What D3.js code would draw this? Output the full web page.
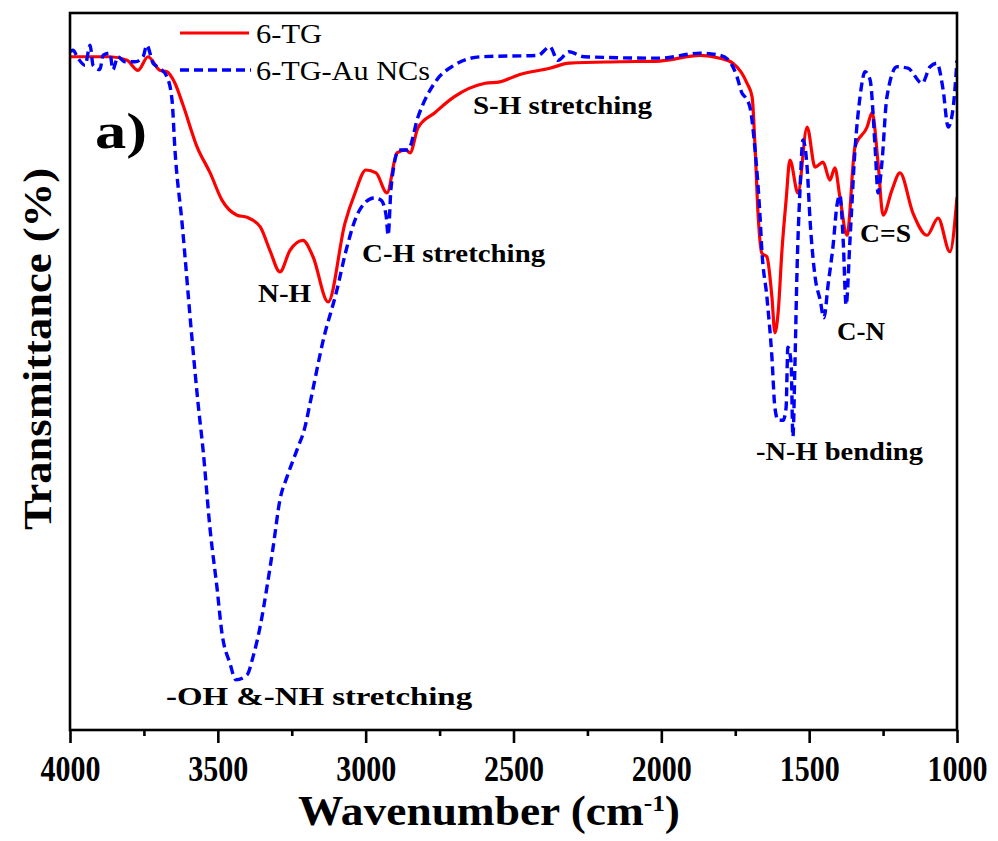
<!DOCTYPE html>
<html>
<head>
<meta charset="utf-8">
<script src="https://cdn.jsdelivr.net/npm/d3@7"></script>
<style>
  html, body { margin: 0; padding: 0; background: #fff; }
  svg { display: block; }
  text { font-family: "Liberation Serif", "Times New Roman", serif; }
</style>
</head>
<body>
<svg id="chart" width="998" height="841"></svg>
<script>
// ---- data (wavenumber cm^-1, transmittance in arbitrary %) ----
const tgWavenumber = [4000,3865,3807,3770,3736,3696,3672,3645,3618,3570,3526,3486,3435,3401,3357,3324,3290,3256,3212,3178,3127,3070,3036,2999,2965,2928,2894,2864,2850,2823,2766,2701,2596,2546,2481,2377,2312,2140,2005,1869,1802,1758,1710,1693,1683,1673,1660,1643,1626,1616,1605,1592,1578,1565,1538,1507,1480,1453,1430,1413,1396,1372,1345,1304,1287,1267,1250,1220,1193,1149,1101,1064,1024,1000];
const tgValues = [93.9,93.9,93.4,92.0,93.9,92.0,91.8,90.2,87.2,81.3,77.7,73.9,71.8,71.5,70.2,66.9,63.9,66.9,68.3,66.0,59.7,70.7,74.9,78.1,77.7,74.9,80.5,80.9,80.5,84.0,86.1,88.3,90.2,90.4,91.4,92.3,93.0,93.2,93.3,94.1,93.7,93.0,90.2,88.3,81.3,72.1,66.5,66.0,60.4,55.4,58.2,66.9,73.9,79.5,74.9,84.1,78.5,79.2,76.7,78.4,74.3,69.0,81.3,84.1,86.1,79.1,71.8,75.3,77.7,72.1,69.0,71.4,66.7,74.3];

const auWavenumber = [4000,3990,3973,3949,3932,3922,3899,3888,3865,3855,3838,3814,3780,3753,3740,3719,3696,3672,3655,3645,3621,3587,3567,3550,3526,3503,3486,3459,3439,3401,3381,3357,3334,3313,3290,3266,3232,3205,3188,3141,3100,3063,3026,2972,2948,2931,2924,2914,2887,2857,2823,2759,2701,2610,2417,2377,2350,2312,2262,2005,1869,1802,1768,1744,1727,1717,1700,1683,1666,1660,1643,1626,1616,1605,1588,1578,1572,1561,1555,1548,1541,1531,1521,1507,1497,1480,1463,1450,1436,1419,1406,1396,1385,1375,1362,1345,1328,1311,1294,1277,1267,1254,1237,1203,1166,1118,1091,1068,1047,1030,1013,1000];
const auValues = [94.6,94.8,93.7,92.7,95.5,92.7,92.1,94.1,94.4,92.1,93.9,93.2,93.2,93.9,95.5,93.0,92.3,91.1,87.9,80.9,70.7,54.4,45.6,39.1,27.9,19.9,13.5,9.3,7.0,7.7,10.2,14.4,19.9,25.5,32.1,35.3,39.1,42.3,45.6,54.8,60.9,67.4,72.1,74.2,73.9,71.8,69.0,75.7,80.9,80.9,85.5,90.7,92.7,93.9,94.1,95.3,93.4,94.6,93.9,93.7,94.4,94.1,93.2,91.1,88.8,88.3,86.8,80.9,71.5,66.9,60.4,52.0,45.0,43.2,43.2,45.0,53.4,51.2,40.9,51.2,64.2,75.3,82.3,78.5,71.1,63.2,60.0,57.5,62.1,67.6,73.2,74.6,68.3,59.3,68.3,80.9,88.3,91.8,90.7,81.3,74.9,79.1,88.3,92.5,92.3,90.2,92.5,93.0,89.3,84.1,86.8,93.4];

const seriesNames = ["6-TG", "6-TG-Au NCs"];
const xTickValues = [4000,3500,3000,2500,2000,1500,1000];
const xMinorTicks = [3750,3250,2750,2250,1750,1250];

const annotations = [
  {text: "S-H stretching", wn: 2637, v: 85.9, len: 179},
  {text: "C-H stretching", wn: 3012, v: 65.3, len: 183},
  {text: "N-H", wn: 3364, v: 59.7, len: 53},
  {text: "-OH &-NH stretching", wn: 3675, v: 3.5, len: 306},
  {text: "-N-H bending", wn: 1680, v: 37.7, len: 167},
  {text: "C-N", wn: 1406, v: 54.4, len: 48},
  {text: "C=S", wn: 1328, v: 68.1, len: 51}
];

// ---- layout ----
const L = 70, R = 957, T = 13, B = 730;
const svg = d3.select("#chart");

const x = d3.scaleLinear().domain([4000, 1000]).range([L, R]);
const y = d3.scaleLinear().domain([0, 100]).range([B, T]);

svg.append("defs").append("clipPath").attr("id", "clip")
  .append("rect").attr("x", L).attr("y", T).attr("width", R - L).attr("height", B - T);

const line = d3.line()
  .x(d => x(d[0])).y(d => y(d[1]))
  .curve(d3.curveMonotoneX);

const tgData = tgWavenumber.map((w, i) => [w, tgValues[i]]);
const auData = auWavenumber.map((w, i) => [w, auValues[i]]);

const plot = svg.append("g").attr("clip-path", "url(#clip)");
plot.append("path").datum(tgData)
  .attr("d", line).attr("fill", "none")
  .attr("stroke", "#ff0000").attr("stroke-width", 3.2)
  .attr("stroke-linejoin", "round");
plot.append("path").datum(auData)
  .attr("d", line).attr("fill", "none")
  .attr("stroke", "#0000ff").attr("stroke-width", 3.4)
  .attr("stroke-dasharray", "9,5");

// frame
svg.append("rect").attr("x", L).attr("y", T).attr("width", R - L).attr("height", B - T)
  .attr("fill", "none").attr("stroke", "#000").attr("stroke-width", 2.6);

// x axis
const xAxis = d3.axisBottom(x).tickValues(xTickValues).tickSize(13).tickFormat(d3.format("d"));
const gx = svg.append("g").attr("transform", `translate(0,${B})`).call(xAxis);
gx.select(".domain").remove();
gx.selectAll(".tick line").attr("stroke", "#000").attr("stroke-width", 2.6);
gx.selectAll(".tick text")
  .attr("y", 51).attr("dy", 0)
  .attr("fill", "#000")
  .style("font-family", '"Liberation Serif", serif')
  .style("font-weight", "bold").style("font-size", "35px")
  .attr("textLength", 60).attr("lengthAdjust", "spacingAndGlyphs");

const xAxisMinor = d3.axisBottom(x).tickValues(xMinorTicks).tickSize(6).tickFormat("");
const gxm = svg.append("g").attr("transform", `translate(0,${B})`).call(xAxisMinor);
gxm.select(".domain").remove();
gxm.selectAll(".tick line").attr("stroke", "#000").attr("stroke-width", 2.6);

// axis titles
const xt = svg.append("text")
  .attr("x", 489).attr("y", 825).attr("text-anchor", "middle")
  .style("font-weight", "bold").style("font-size", "43px")
  .attr("textLength", 382).attr("lengthAdjust", "spacingAndGlyphs");
xt.append("tspan").text("Wavenumber (cm");
xt.append("tspan").text("-1").attr("dy", -14).style("font-size", "24px");
xt.append("tspan").text(")").attr("dy", 14);

svg.append("text")
  .attr("transform", "translate(51,349) rotate(-90)")
  .attr("text-anchor", "middle")
  .style("font-weight", "bold").style("font-size", "41px")
  .attr("textLength", 362).attr("lengthAdjust", "spacingAndGlyphs")
  .text("Transmittance (%)");

// panel label
svg.append("text").attr("x", 95).attr("y", 148)
  .style("font-weight", "bold").style("font-size", "50px")
  .attr("textLength", 52).attr("lengthAdjust", "spacingAndGlyphs")
  .text("a)");

// legend
const lg = svg.append("g");
lg.append("line").attr("x1", 180).attr("x2", 249).attr("y1", 33).attr("y2", 33)
  .attr("stroke", "#ff0000").attr("stroke-width", 3.2);
lg.append("text").attr("x", 256).attr("y", 43)
  .style("font-size", "27px").attr("textLength", 66).attr("lengthAdjust", "spacingAndGlyphs")
  .text(seriesNames[0]);
lg.append("line").attr("x1", 180).attr("x2", 251).attr("y1", 70).attr("y2", 70)
  .attr("stroke", "#0000ff").attr("stroke-width", 3.4).attr("stroke-dasharray", "9,5");
lg.append("text").attr("x", 256).attr("y", 80)
  .style("font-size", "27px").attr("textLength", 174).attr("lengthAdjust", "spacingAndGlyphs")
  .text(seriesNames[1]);

// annotations
svg.append("g").selectAll("text").data(annotations).join("text")
  .attr("x", d => x(d.wn)).attr("y", d => y(d.v))
  .style("font-weight", "bold").style("font-size", "26px")
  .attr("textLength", d => d.len).attr("lengthAdjust", "spacingAndGlyphs")
  .text(d => d.text);
</script>
</body>
</html>
